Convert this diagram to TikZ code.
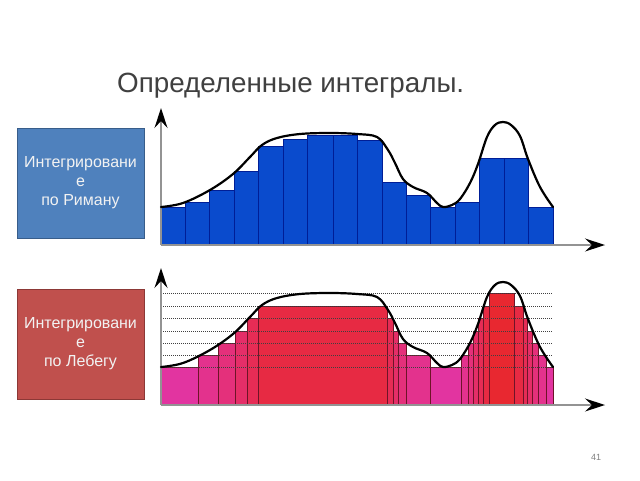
\documentclass[tikz,border=0pt]{standalone}
\usepackage{fontspec}
\setmainfont{Liberation Sans}
\usetikzlibrary{arrows.meta}
\definecolor{boxblue}{RGB}{79,129,189}
\definecolor{boxblueD}{RGB}{56,93,138}
\definecolor{boxred}{RGB}{192,80,77}
\definecolor{boxredD}{RGB}{140,56,54}
\definecolor{barblue}{RGB}{10,75,205}
\definecolor{barblueD}{RGB}{0,30,150}
\definecolor{magpink}{RGB}{226,52,160}
\definecolor{lred}{RGB}{232,40,48}
\definecolor{colD}{RGB}{110,20,40}
\definecolor{titlegray}{RGB}{64,64,64}
\tikzset{
  box/.style={draw, line width=0.8pt, minimum width=127pt, minimum height=110pt,
    align=center, text=white!95!black, font=\fontsize{16}{19}\selectfont, inner sep=0pt},
  axisline/.style={draw=gray!85, line width=1.3pt, -{Stealth[length=20pt,width=13pt,inset=7pt,color=black]}},
  rbar/.style={fill=barblue, draw=barblueD, line width=0.8pt},
  lcol/.style={draw=colD, line width=0.8pt},
  hline/.style={draw=gray!50!black, line width=0.8pt, dash pattern=on 1pt off 1pt},
  curve/.style={draw=black, line width=2.2pt, line join=round, line cap=round}
}
\begin{document}
\begin{tikzpicture}[x=1pt,y=-1pt]
\useasboundingbox (0,0) rectangle (640,480);

\node[anchor=base west, text=titlegray, font=\fontsize{27.8}{33}\selectfont, inner sep=0pt] (title) at (117,92) {Определенные интегралы.};

\node[box, fill=boxblue, draw=boxblueD] (riemann) at (80.5,183) {Интегрировани\\е\\по Риману};
\node[box, fill=boxred, draw=boxredD] (lebesgue) at (80.5,344) {Интегрировани\\е\\по Лебегу};

\node[text=gray, font=\fontsize{9}{11}\selectfont] (page) at (596,457) {41};

% ---------- Riemann ----------
\foreach \a/\b/\t in {161/185/207,185/209/202,209/234/190,234/258/171,258/283/146,283/307/139,307/333/135,333/357/135,357/382/140,382/406/182,406/430/195,430/455/207,455/479/202,479/504/158,504/528/158,528/553/207}
  \draw[rbar] (\a,245) rectangle (\b,\t);

% ---------- Lebesgue ----------
\begin{scope}[yshift=-160pt]
\foreach \a/\b/\t/\k in {161/198/207/0,198/218/195/17,218/235/183/33,235/247/171/50,247/258/158/67,258/387/146/83,387/393/158/67,393/398/171/50,398/406/183/33,406/430/195/17,430/461/207/0,461/468/195/17,468/473/183/33,473/478/171/50,478/483/158/67,483/489/146/83,489/514/133/100,514/523/146/83,523/527/158/67,527/532/171/50,532/538/183/33,538/546/195/17,546/553/207/0}
  \draw[lcol, fill=lred!\k!magpink] (\a,245) rectangle (\b,\t);
\foreach \y in {207,195,183,171,158,146,133}
  \draw[hline] (161,\y) -- (553,\y);
\end{scope}

% ---------- axes and curves ----------
\foreach \s in {0,-160}{
\begin{scope}[yshift=\s pt]
  \coordinate (o) at (161,245);
  \coordinate (ytip) at (161,108);
  \coordinate (xtip) at (605,245);
  \draw[axisline] (o) -- (ytip);
  \draw[axisline] (o) -- (xtip);
  \draw[curve] plot[smooth, tension=0.6] coordinates {
    (161,207) (183,203) (210,190) (233,174) (250,157) (262,145) (277,138) (300,134)
    (330,133) (357,134) (377,137) (388,150) (395,163) (403,179) (413,187) (427,193)
    (437,203) (443,207) (452,205) (460,199) (470,183) (478,164) (487,137) (495,125)
    (503,122) (511,125) (520,136) (528,159) (540,187) (553,207)};
\end{scope}}
\end{tikzpicture}
\end{document}
